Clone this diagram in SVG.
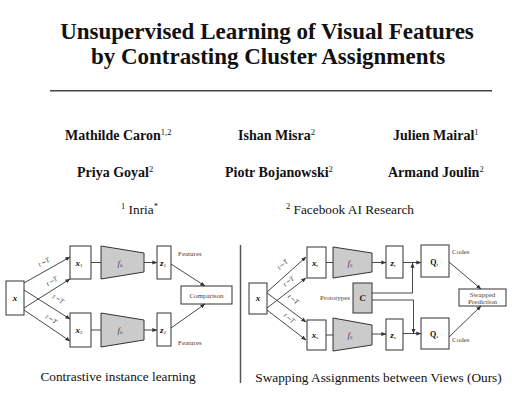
<svg xmlns="http://www.w3.org/2000/svg" width="512" height="405" viewBox="0 0 512 405">
<defs>
<marker id="ah" viewBox="0 0 8 8" refX="7.5" refY="4" markerWidth="5" markerHeight="5" orient="auto" markerUnits="userSpaceOnUse">
<path d="M0,0.8 L8,4 L0,7.2 Z" fill="#333"/>
</marker>
<style>
.t{font-family:"Liberation Serif","Times New Roman",serif;fill:#111}
.title{font-size:23px;font-weight:bold;text-anchor:middle}
.au{font-size:14px;font-weight:bold}
.af{font-size:13.3px}
.sup{font-size:8.5px}
.cap{font-size:13.3px;text-anchor:middle}
.box{fill:#fff;stroke:#333;stroke-width:1}
.gray{fill:#cbcbcb;stroke:#333;stroke-width:1}
.sm{font-size:7px;fill:#444}
.lb{font-size:9px;font-weight:bold;font-style:italic;text-anchor:middle}
.lq{font-size:8px;font-weight:bold;text-anchor:middle}
.sub{font-size:5px;font-weight:normal;font-style:normal}
.fl{font-size:9px;font-style:italic;text-anchor:middle;fill:#444}
.tl{font-size:7px;font-style:italic;fill:#444;text-anchor:middle}
.c line,.c path{stroke:#333;stroke-width:0.9;fill:none}
.ar{marker-end:url(#ah)}
</style>
</defs>
<rect width="512" height="405" fill="#fff"/>
<g id="title" class="t">
<text class="title t" x="267" y="39">Unsupervised Learning of Visual Features</text>
<text class="title t" x="268" y="64">by Contrasting Cluster Assignments</text>
</g>
<line x1="50" y1="90.7" x2="492" y2="90.7" stroke="#444" stroke-width="1.5"/>
<g id="authors">
<text class="t au" x="65" y="140">Mathilde Caron<tspan class="sup" font-weight="normal" dy="-5">1,2</tspan></text>
<text class="t au" x="238" y="140">Ishan Misra<tspan class="sup" font-weight="normal" dy="-5">2</tspan></text>
<text class="t au" x="393" y="140">Julien Mairal<tspan class="sup" font-weight="normal" dy="-5">1</tspan></text>
<text class="t au" x="77" y="177">Priya Goyal<tspan class="sup" font-weight="normal" dy="-5">2</tspan></text>
<text class="t au" x="225" y="177">Piotr Bojanowski<tspan class="sup" font-weight="normal" dy="-5">2</tspan></text>
<text class="t au" x="388" y="177">Armand Joulin<tspan class="sup" font-weight="normal" dy="-5">2</tspan></text>
<text class="t af" x="121" y="214"><tspan class="sup" dy="-5">1</tspan><tspan dy="5"> Inria</tspan><tspan class="sup" dy="-5">*</tspan></text>
<text class="t af" x="286" y="214"><tspan class="sup" dy="-5">2</tspan><tspan dy="5"> Facebook AI Research</tspan></text>
</g>
<line x1="240.5" y1="245" x2="240.5" y2="383" stroke="#555" stroke-width="1.5"/>
<!-- Left diagram -->
<g id="L_x"><rect class="box" x="6" y="281" width="18" height="34"/><text class="t lb" x="15" y="301">x</text></g>
<g id="L_x1"><rect class="box" x="70" y="246" width="21" height="33"/><text class="t lb" x="79" y="266">x<tspan class="sub" dy="1">1</tspan></text></g>
<g id="L_f1"><polygon class="gray" points="101,246 144,253 144,272 101,279"/><text class="t fl" x="120" y="266">f<tspan class="sub" dy="1">θ</tspan></text></g>
<g id="L_z1"><rect class="box" x="157" y="246" width="14" height="33"/><text class="t lb" x="163" y="266">z<tspan class="sub" dy="1">1</tspan></text></g>
<g id="L_x2"><rect class="box" x="70" y="313" width="21" height="34"/><text class="t lb" x="79" y="333">x<tspan class="sub" dy="1">2</tspan></text></g>
<g id="L_f2"><polygon class="gray" points="101,313 144,320 144,340 101,347"/><text class="t fl" x="120" y="333">f<tspan class="sub" dy="1">θ</tspan></text></g>
<g id="L_z2"><rect class="box" x="157" y="313" width="14" height="33"/><text class="t lb" x="163" y="333">z<tspan class="sub" dy="1">2</tspan></text></g>
<g id="L_cmp"><rect class="box" x="181" y="286" width="51" height="18"/><text class="t sm" x="206.5" y="297.5" text-anchor="middle" font-size="7.5">Comparison</text></g>
<g id="L_labels">
<text class="t sm" x="178" y="256">Features</text>
<text class="t sm" x="178" y="345">Features</text>
<text class="t cap" x="118" y="381">Contrastive instance learning</text>
</g>
<!-- Right diagram -->
<g id="R_x"><rect class="box" x="249" y="283" width="18" height="31"/><text class="t lb" x="258" y="301">x</text></g>
<g id="R_x1"><rect class="box" x="307" y="247" width="19" height="31"/><text class="t lb" x="315" y="266">x<tspan class="sub" dy="1">t</tspan></text></g>
<g id="R_f1"><polygon class="gray" points="333,247 372,253 372,272 333,278"/><text class="t fl" x="350" y="266">f<tspan class="sub" dy="1">θ</tspan></text></g>
<g id="R_z1"><rect class="box" x="386" y="246" width="17" height="32"/><text class="t lb" x="393" y="266">z<tspan class="sub" dy="1">t</tspan></text></g>
<g id="R_q1"><rect class="box" x="421" y="245" width="28" height="32"/><text class="t lq" x="434" y="265">Q<tspan class="sub" dy="1">t</tspan></text></g>
<g id="R_c"><rect class="gray" x="353" y="283" width="19" height="30"/><text class="t lb" x="362.5" y="301">C</text></g>
<g id="R_x2"><rect class="box" x="307" y="320" width="19" height="30"/><text class="t lb" x="315" y="338">x<tspan class="sub" dy="1">s</tspan></text></g>
<g id="R_f2"><polygon class="gray" points="333,318 372,325 372,345 333,351"/><text class="t fl" x="350" y="338">f<tspan class="sub" dy="1">θ</tspan></text></g>
<g id="R_z2"><rect class="box" x="386" y="319" width="17" height="31"/><text class="t lb" x="393" y="338">z<tspan class="sub" dy="1">s</tspan></text></g>
<g id="R_q2"><rect class="box" x="421" y="318" width="28" height="31"/><text class="t lq" x="434" y="337">Q<tspan class="sub" dy="1">s</tspan></text></g>
<g id="R_sp"><rect class="box" x="459" y="289" width="47" height="17"/><text class="t sm" x="482.5" y="296.5" text-anchor="middle" font-size="6.5">Swapped</text><text class="t sm" x="482.5" y="303.5" text-anchor="middle" font-size="6.5">Prediction</text></g>
<g id="R_labels">
<text class="t sm" x="350" y="300" text-anchor="end">Prototypes</text>
<text class="t sm" x="452" y="254">Codes</text>
<text class="t sm" x="452" y="342">Codes</text>
<text class="t cap" x="378.5" y="382">Swapping Assignments between Views (Ours)</text>
</g>
<g id="connectors" class="c">
<line class="ar" x1="24" y1="283" x2="70" y2="257"/>
<line class="ar" x1="24" y1="308" x2="70" y2="279"/>
<line class="ar" x1="24" y1="290" x2="70" y2="319"/>
<line class="ar" x1="24" y1="310" x2="70" y2="341"/>
<line x1="91" y1="262.5" x2="101" y2="262.5"/>
<line class="ar" x1="144" y1="262.5" x2="157" y2="262.5"/>
<line x1="91" y1="330" x2="101" y2="330"/>
<line class="ar" x1="144" y1="330" x2="157" y2="330"/>
<line class="ar" x1="171" y1="264" x2="205" y2="286"/>
<line class="ar" x1="171" y1="328" x2="205" y2="304"/>
<line class="ar" x1="267" y1="292" x2="306" y2="257"/>
<line class="ar" x1="267" y1="308" x2="306" y2="278"/>
<line class="ar" x1="267" y1="293" x2="306" y2="322"/>
<line class="ar" x1="267" y1="310" x2="306" y2="340"/>
<line x1="326" y1="262.5" x2="333" y2="262.5"/>
<line class="ar" x1="372" y1="262.5" x2="386" y2="262.5"/>
<line class="ar" x1="403" y1="262.5" x2="421" y2="262.5"/>
<path class="ar" d="M372,293 H412.5 V263"/>
<path class="ar" d="M372,300 H413.5 V333.5"/>
<line x1="326" y1="335" x2="333" y2="335"/>
<line class="ar" x1="372" y1="334" x2="386" y2="334"/>
<line class="ar" x1="403" y1="333.5" x2="421" y2="333.5"/>
<line class="ar" x1="449" y1="262" x2="481" y2="289"/>
<line class="ar" x1="449" y1="337" x2="481" y2="306"/>
</g>
<g id="t_labels" class="t">
<text class="tl" transform="translate(45,264) rotate(-30)">t∼T</text>
<text class="tl" transform="translate(53,283) rotate(-32)">t∼T</text>
<text class="tl" transform="translate(57,301) rotate(32)">t∼T</text>
<text class="tl" transform="translate(50,321) rotate(34)">t∼T</text>
<text class="tl" transform="translate(284,266) rotate(-41)">t∼T</text>
<text class="tl" transform="translate(290,283) rotate(-38)">t∼T</text>
<text class="tl" transform="translate(292,301) rotate(37)">t∼T</text>
<text class="tl" transform="translate(288,320) rotate(38)">t∼T</text>
</g>
</svg>
